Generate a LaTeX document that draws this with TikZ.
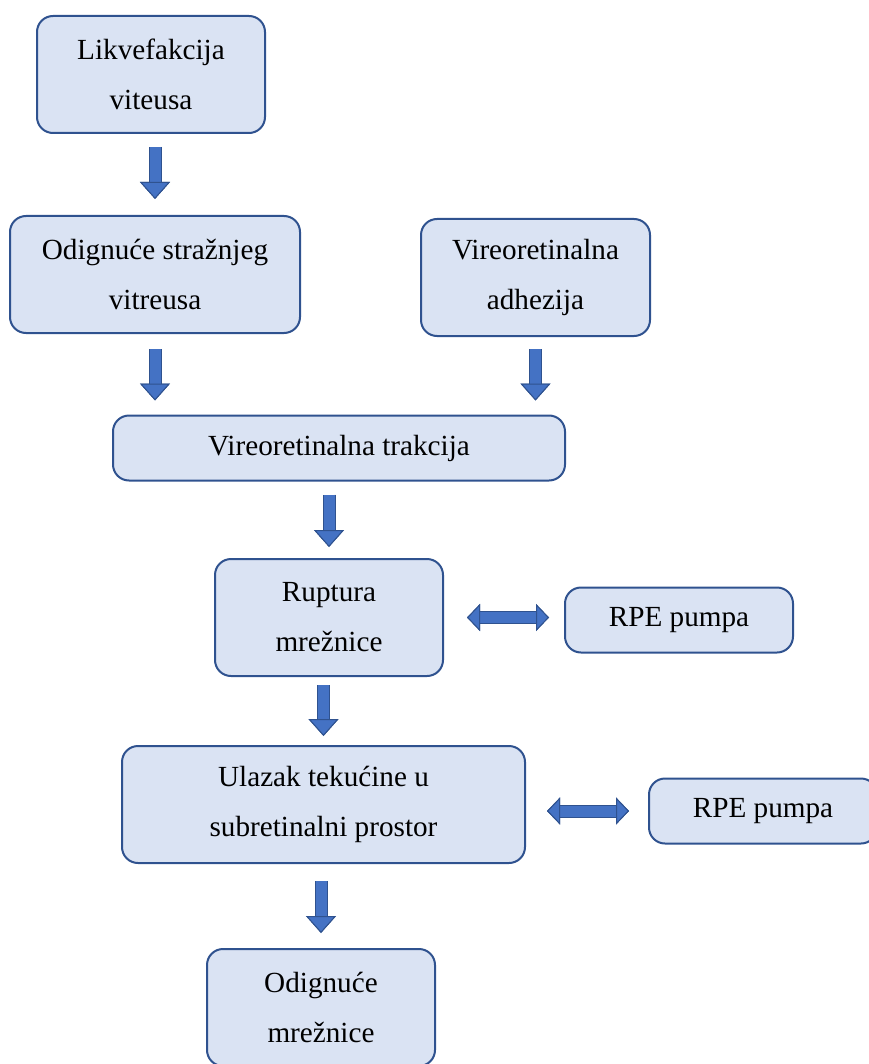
\documentclass[tikz,border=0pt]{standalone}
\usepackage{fontspec}
\setmainfont{Liberation Serif}
\usetikzlibrary{arrows.meta}
\usepackage{xcolor}
\definecolor{boxfill}{HTML}{DAE3F3}
\definecolor{boxline}{HTML}{2F528F}
\definecolor{arrowfill}{HTML}{4472C4}
\definecolor{arrowline}{HTML}{2F528F}

\begin{document}
\begin{tikzpicture}[x=0.5pt,y=-0.5pt,
					box/.style={draw=boxline, fill=boxfill, line width=1pt, rounded corners=8pt, align=center, inner sep=0pt, font=\fontsize{14.6pt}{25pt}\selectfont},
					tall/.style={box, minimum height=58.5pt},
					flat/.style={box, minimum height=32.5pt},
					down/.style={line width=5.5pt, draw=arrowfill,
						-{Triangle[width=15pt,length=8.5pt,line width=0.5pt,fill=arrowfill,color=arrowline]},
						preaction={draw=arrowline, line width=6.5pt, -{Triangle[width=15pt,length=8.5pt,line width=0.5pt,fill=arrowfill,color=arrowline]}}},
					both/.style={line width=5.5pt, draw=arrowfill,
						{Triangle[width=13.5pt,length=6.5pt,line width=0.5pt,fill=arrowfill,color=arrowline]}-{Triangle[width=13.5pt,length=6.5pt,line width=0.5pt,fill=arrowfill,color=arrowline]},
						preaction={draw=arrowline, line width=6.5pt, {Triangle[width=13.5pt,length=6.5pt,line width=0.5pt,fill=arrowfill,color=arrowline]}-{Triangle[width=13.5pt,length=6.5pt,line width=0.5pt,fill=arrowfill,color=arrowline]}}}]
    \useasboundingbox (0,0) rectangle (868,1064);
    % Place nodes
    \node [tall, minimum width=114pt] (A) at (151,74.5) {Likvefakcija\\viteusa};
    \node [tall, minimum width=145pt] (B) at (155,274.5) {Odignuće stražnjeg\\vitreusa};
    \node [tall, minimum width=114.5pt] (C) at (535.5,277.5) {Vireoretinalna\\adhezija};
    \node [flat, minimum width=226pt] (D) at (339,448) {Vireoretinalna trakcija};
    \node [tall, minimum width=114pt] (E) at (329,617.5) {Ruptura\\mrežnice};
    \node [flat, minimum width=114pt] (F) at (679,620) {RPE pumpa};
    \node [tall, minimum width=201.5pt] (G) at (323.5,804.5) {Ulazak tekućine u\\subretinalni prostor};
    \node [flat, minimum width=114pt] (H) at (763,811) {RPE pumpa};
    \node [tall, minimum width=114pt] (I) at (321,1007.5) {Odignuće\\mrežnice};
    % Draw edges
    \draw[down, shorten <=6.5pt, shorten >=8pt] (A.south -| B.north) -- (B.north);
    \draw[down, shorten <=7.5pt, shorten >=7pt] (B.south) -- (B.south |- D.north);
    \draw[down, shorten <=6pt, shorten >=7pt] (C.south) -- (C.south |- D.north);
    \draw[down, shorten <=6.5pt, shorten >=5.5pt] (D.south -| E.north) -- (E.north);
    \draw[down, shorten <=4pt, shorten >=4.5pt] (E.south -| G.north) -- (G.north);
    \draw[down, shorten <=8.5pt, shorten >=7.5pt] (G.south -| I.north) -- (I.north);
    \draw[both, shorten <=11.5pt, shorten >=7.5pt] (E.east) -- (E.east -| F.west);
    \draw[both, shorten <=10.5pt, shorten >=9.5pt] (G.east |- H.west) -- (H.west);
\end{tikzpicture}
\end{document}
